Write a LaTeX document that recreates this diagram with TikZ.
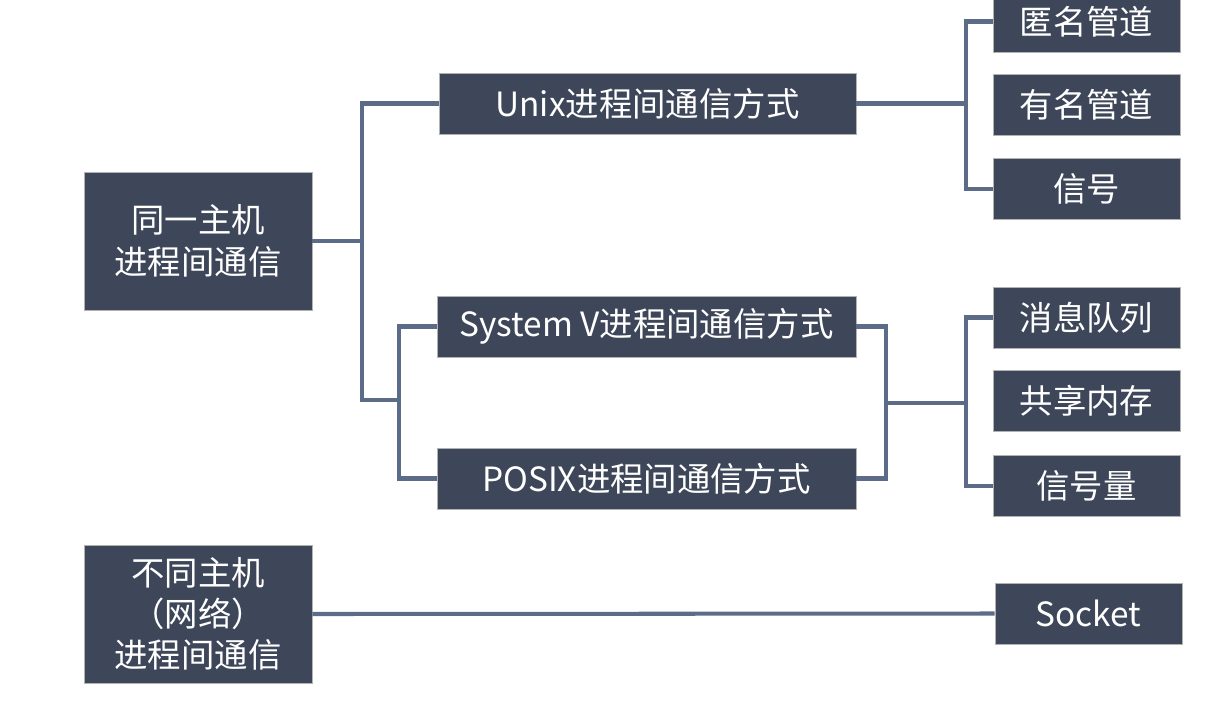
\documentclass[tikz,border=0pt]{standalone}
\usepackage{fontspec}
\newfontfamily\cjk{Noto Sans CJK SC}
\usepackage{tikz}
\usetikzlibrary{positioning, calc}
\definecolor{boxfill}{HTML}{3E4759}
\definecolor{linkcol}{HTML}{5C6B88}

\begin{document}
\begin{tikzpicture}[
  x=0.02cm, y=-0.02cm,
  node distance=0.44cm and 0.5cm,
  box/.style={rectangle, draw=black!30, line width=0.4pt, fill=boxfill,
               text=white, align=center, inner sep=0pt,
               font=\cjk\fontsize{19}{24}\selectfont},
  hostbox/.style={box, minimum width=4.56cm, minimum height=2.76cm},
  waybox/.style={box, minimum width=8.38cm, minimum height=1.22cm},
  leafbox/.style={box, minimum width=3.74cm, minimum height=1.22cm},
  link/.style={draw=linkcol, line width=2.3pt},
]
\useasboundingbox (0,0) rectangle (1208,704);

% hosts
\node[hostbox] (same)  at (198,241) {同一主机\\进程间通信};
\node[hostbox, font=\cjk\fontsize{19}{23.3}\selectfont] (other) at (198,614) {不同主机\\（网络）\\进程间通信};

% ways
\node[waybox, minimum width=8.34cm] (unix) at (647.5,103.5) {Unix进程间通信方式};
\node[waybox] (sysv)  at (646.5,326.5) {System V进程间通信方式};
\node[waybox] (posix) at (646.5,478.5) {POSIX进程间通信方式};

% leaves
\node[leafbox] (anon)  at (1086.5,21.5) {匿名管道};
\node[leafbox, below=of anon]  (named) {有名管道};
\node[leafbox, below=of named] (sig)   {信号};
\node[leafbox] (msg)   at (1086.5,317.5) {消息队列};
\node[leafbox, below=0.44cm of msg] (shm) {共享内存};
\node[leafbox, below=0.46cm of shm] (sem) {信号量};
\node[leafbox] (sock)  at (1088.5,613.5) {Socket};

% joints
\coordinate (j1) at (362,241);
\coordinate (j2) at (399,400);
\coordinate (j3) at (886,403);
\coordinate (j4) at (966,103.5);
\coordinate (j5) at (966,403);

\draw[link] (same.east) -- (j1);
\draw[link] (unix.west) -| (j1) |- (j2);
\draw[link] (sysv.west) -| (j2) |- (posix.west);
\draw[link] (sysv.east) -| (j3) |- (posix.east);
\draw[link] (j3) -- (j5);
\draw[link] (unix.east) -- (j4);
\draw[link] (anon.west) -| (j4) |- (sig.west);
\draw[link] (msg.west) -| (j5) |- (sem.west);
\draw[link] (other.east) -- (sock.west);
\end{tikzpicture}
\end{document}
